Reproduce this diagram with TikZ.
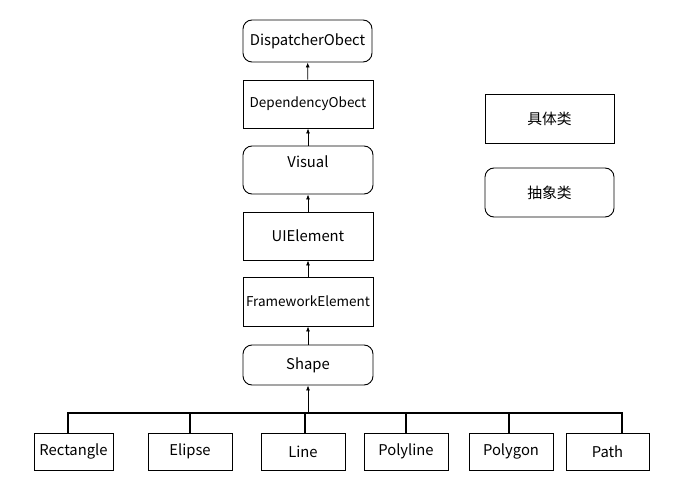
\documentclass[tikz,border=0pt]{standalone}
\usepackage{fontspec}
\setmainfont{Noto Sans CJK SC}
\usepackage{tikz}
\usetikzlibrary{arrows.meta}

\begin{document}
\begin{tikzpicture}
[x=1pt,y=-1pt,
every node/.style={draw=black,line width=0.9pt,inner sep=0pt,font=\fontsize{14.8}{17}\selectfont},
concrete/.style={rectangle},
abstract/.style={rectangle,rounded corners=9pt},
small/.style={font=\fontsize{13.5}{16}\selectfont},
arr/.style={line width=0.8pt,-{Latex[length=5pt,width=4pt]}},
bus/.style={line width=1.8pt}]
\useasboundingbox (0,0) rectangle (674,481);
\node[concrete,draw=none,minimum width=674pt,minimum height=481pt] (bg) at (337,240.5) {};
\node[abstract,minimum width=129pt,minimum height=42pt] (disp) at (307.5,41) {DispatcherObect};
\node[concrete,small,minimum width=130pt,minimum height=48pt] (dep) at (308,104) {DependencyObect};
\node[abstract,minimum width=130pt,minimum height=48pt,text depth=17pt] (visual) at (308,170) {Visual};
\node[concrete,minimum width=130pt,minimum height=48pt] (ui) at (308,236) {UIElement};
\node[concrete,small,minimum width=130pt,minimum height=49pt] (fe) at (308,301.5) {FrameworkElement};
\node[abstract,minimum width=130pt,minimum height=40pt] (shape) at (308,365) {Shape};

\node[concrete,minimum width=129pt,minimum height=49pt] (conc) at (549.5,118.5) {具体类};
\node[abstract,minimum width=129pt,minimum height=49pt] (abst) at (549.5,192.5) {抽象类};

\node[concrete,minimum width=79pt,minimum height=37pt] (rect) at (73.5,451.5) {Rectangle};
\node[concrete,minimum width=84pt,minimum height=37pt] (elipse) at (190,451.5) {Elipse};
\node[concrete,minimum width=84pt,minimum height=37pt] (line) at (303,451.5) {Line};
\node[concrete,minimum width=84pt,minimum height=37pt] (polyline) at (406,451.5) {Polyline};
\node[concrete,minimum width=84pt,minimum height=37pt] (polygon) at (511,451.5) {Polygon};
\node[concrete,minimum width=83pt,minimum height=37pt] (path) at (607.5,451.5) {Path};

\coordinate (busL) at (67,413);
\coordinate (busR) at (623,413);

\foreach \from/\to in {dep/disp,visual/dep,ui/visual,fe/ui,shape/fe}
\draw[arr] (\from) -- (\to);
\draw[arr] (shape.south |- busL) -- (shape.south);

\draw[bus] (busL) -- (busR);
\foreach \n/\dx in {rect/-5.5,elipse/0,line/2,polyline/0,polygon/-2,path/14.5}
\draw[bus] ([xshift=\dx pt]\n.north) -- ([xshift=\dx pt]\n.north |- busL);
\end{tikzpicture}
\end{document}
